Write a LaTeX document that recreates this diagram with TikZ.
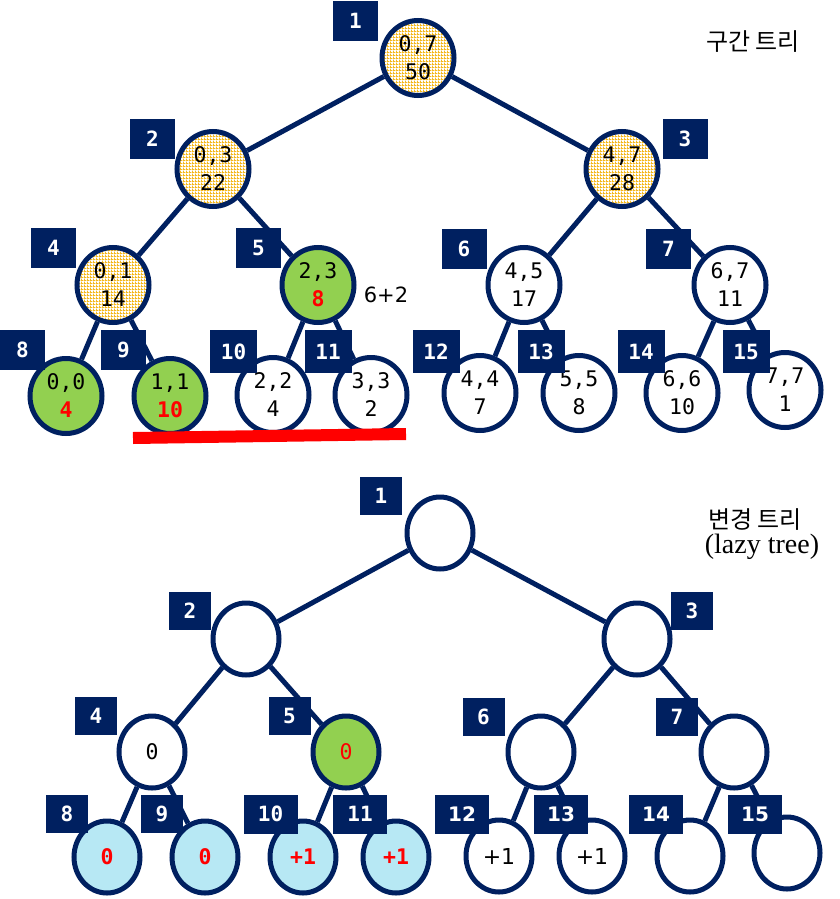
\documentclass[tikz,border=0pt]{standalone}
\usepackage{fontspec}
\setmainfont{Liberation Serif}
\setmonofont{DejaVu Sans Mono}
\newfontfamily\krfont{Noto Sans CJK KR}
\newfontfamily\sansfont{DejaVu Sans}
\usetikzlibrary{shapes.geometric,patterns}

\definecolor{navy}{RGB}{0,32,96}
\definecolor{leaf}{RGB}{146,208,80}
\definecolor{sky}{RGB}{183,232,244}
\definecolor{gold}{RGB}{244,184,30}
\definecolor{hot}{RGB}{255,0,0}

% fine gold mesh used for the partially covered segments
\pgfdeclarepatternformonly{goldmesh}{\pgfpointorigin}{\pgfqpoint{3pt}{3pt}}{\pgfqpoint{3pt}{3pt}}{%
  \pgfpathrectangle{\pgfpointorigin}{\pgfqpoint{3pt}{1pt}}%
  \pgfpathrectangle{\pgfpointorigin}{\pgfqpoint{1pt}{3pt}}%
  \pgfusepath{fill}}

\tikzset{
  seg/.style={ellipse, draw=navy, line width=5pt, fill=white, inner sep=0pt,
    minimum width=72pt, minimum height=75pt, align=center,
    font=\fontsize{21.5}{28}\selectfont\ttfamily},
  lazy/.style={ellipse, draw=navy, line width=5pt, fill=white, inner sep=0pt,
    minimum width=66pt, minimum height=72pt,
    font=\fontsize{21.5}{24}\selectfont\ttfamily},
  mesh/.style={preaction={fill=white}, pattern=goldmesh, pattern color=gold},
  green/.style={fill=leaf},
  blue/.style={fill=sky},
  tag/.style={fill=navy, text=white, inner sep=0pt, minimum width=45pt,
    minimum height=40pt, font=\fontsize{21}{21}\selectfont\ttfamily\bfseries},
  wide/.style={minimum width=47pt, minimum height=43pt},
  lwide/.style={minimum width=54pt, minimum height=39pt},
  ltag/.style={tag, minimum width=42pt, minimum height=38pt},
  stag/.style={font=\fontsize{20}{20}\sansfont\bfseries},
  link/.style={draw=navy, line width=5pt},
}

\begin{document}
\begin{tikzpicture}[x=1pt, y=-1pt]
\useasboundingbox (0,0) rectangle (840,899);

% ---------------- segment tree ----------------
\node[seg, mesh] (t1) at (418,58) {0,7\\50};
\node[seg, mesh] (t2) at (213,169) {0,3\\22};
\node[seg, mesh] (t3) at (622,169) {4,7\\28};
\node[seg, mesh] (t4) at (113,285) {0,1\\14};
\node[seg, green] (t5) at (318,285) {2,3\\{\bfseries\color{hot}8}};
\node[seg] (t6) at (524,285) {4,5\\17};
\node[seg] (t7) at (730,285) {6,7\\11};
\node[seg, green] (t8) at (66,396) {0,0\\{\bfseries\color{hot}4}};
\node[seg, green] (t9) at (170,396) {1,1\\{\bfseries\color{hot}10}};
\node[seg] (t10) at (273,395) {2,2\\4};
\node[seg] (t11) at (371,395) {3,3\\2};
\node[seg] (t12) at (480,393) {4,4\\7};
\node[seg] (t13) at (579,393) {5,5\\8};
\node[seg] (t14) at (682,393) {6,6\\10};
\node[seg] (t15) at (785,390) {7,7\\1};

\foreach \p/\c in {t1/t2,t1/t3,t2/t4,t2/t5,t3/t6,t3/t7,t4/t8,t4/t9,t5/t10,t5/t11,t6/t12,t6/t13,t7/t14,t7/t15}
  \draw[link] (\p) -- (\c);

\node[tag] (n1) at (355.5,21) {1};
\node[tag] (n2) at (152.5,139) {2};
\node[tag] (n3) at (685,139) {3};
\node[tag] (n4) at (53.5,248) {4};
\node[tag] (n5) at (258.5,248) {5};
\node[tag] (n6) at (464,249) {6};
\node[tag] (n7) at (668.5,249) {7};
\node[tag] (n8) at (22.5,349.5) {8};
\node[tag] (n9) at (123.5,349.5) {9};
\node[tag, wide] (n10) at (233.5,351.5) {10};
\node[tag, wide] (n11) at (328,351.5) {11};
\node[tag, wide] (n12) at (436,351.5) {12};
\node[tag, wide] (n13) at (541,351.5) {13};
\node[tag, wide] (n14) at (641,351.5) {14};
\node[tag, wide] (n15) at (746,351.5) {15};

\node[font=\fontsize{21}{21}\selectfont\sansfont] (sum) at (386,295) {6+2};
\coordinate (rangeL) at (133,438);
\coordinate (rangeR) at (406,434);
\draw[hot, line width=12pt] (rangeL) -- (rangeR);

\node[font=\fontsize{24}{24}\selectfont\krfont] (title1) at (753,42) {구간 트리};

% ---------------- lazy tree ----------------
\node[lazy] (b1) at (440,533) {};
\node[lazy] (b2) at (246,639) {};
\node[lazy] (b3) at (637,639) {};
\node[lazy] (b4) at (152,752) {0};
\node[lazy, green] (b5) at (346,752) {\color{hot}0};
\node[lazy] (b6) at (541,752) {};
\node[lazy] (b7) at (734,752) {};
\node[lazy, blue] (b8) at (107,857) {\bfseries\color{hot}0};
\node[lazy, blue] (b9) at (205,857) {\bfseries\color{hot}0};
\node[lazy, blue] (b10) at (303,857) {\bfseries\color{hot}+1};
\node[lazy, blue] (b11) at (396,857) {\bfseries\color{hot}+1};
\node[lazy, font=\fontsize{22}{24}\selectfont\sansfont] (b12) at (499,856) {+1};
\node[lazy, font=\fontsize{22}{24}\selectfont\sansfont] (b13) at (592,856) {+1};
\node[lazy] (b14) at (690,856) {};
\node[lazy] (b15) at (787,853) {};

\foreach \p/\c in {b1/b2,b1/b3,b2/b4,b2/b5,b3/b6,b3/b7,b4/b8,b4/b9,b5/b10,b5/b11,b6/b12,b6/b13,b7/b14,b7/b15}
  \draw[link] (\p) -- (\c);

\node[ltag] (m1) at (381,495.5) {1};
\node[ltag] (m2) at (190,610.5) {2};
\node[ltag] (m3) at (692,610.5) {3};
\node[ltag] (m4) at (96,715.5) {4};
\node[ltag] (m5) at (289.5,715.5) {5};
\node[ltag] (m6) at (483.5,716.5) {6};
\node[ltag] (m7) at (677,716.5) {7};
\node[ltag] (m8) at (67,814) {8};
\node[ltag] (m9) at (162,814) {9};
\node[ltag, lwide] (m10) at (270.5,814) {10};
\node[ltag, lwide] (m11) at (360,814) {11};
\node[ltag, lwide, stag] (m12) at (462,814.5) {12};
\node[ltag, lwide, stag] (m13) at (561,814.5) {13};
\node[ltag, lwide, stag] (m14) at (656,814.5) {14};
\node[ltag, lwide, stag] (m15) at (755,814.5) {15};

\node[font=\fontsize{24}{24}\selectfont\krfont] (title2) at (755,520) {변경 트리};
\node[font=\fontsize{28}{28}\selectfont] (title3) at (762,547) {(lazy tree)};
\end{tikzpicture}
\end{document}
